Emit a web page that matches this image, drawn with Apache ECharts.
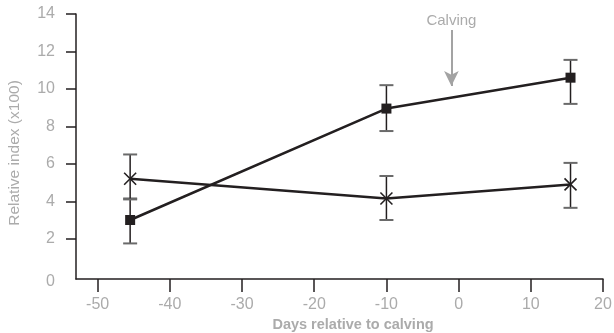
<!DOCTYPE html>
<html>
<head>
<meta charset="utf-8">
<script src="https://cdn.jsdelivr.net/npm/echarts@6/dist/echarts.min.js"></script>
<style>
  html, body { margin: 0; padding: 0; background: #fff; }
  #chart { width: 614px; height: 333px; }
</style>
</head>
<body>
<div id="chart"></div>
<script>
// Sampling days relative to calving
const days = [-45.5, -10, 15.5];

// Series drawn with filled squares: mean and error range
const squareMean = [3.0, 8.95, 10.6];
const squareLow  = [1.75, 7.75, 9.2];
const squareHigh = [4.15, 10.2, 11.55];

// Series drawn with crosses: mean and error range
const crossMean = [5.2, 4.15, 4.9];
const crossLow  = [4.1, 3.0, 3.65];
const crossHigh = [6.5, 5.35, 6.05];

// Axis ticks
const xTicks = [-50, -40, -30, -20, -10, 0, 10, 20];
const yTicks = [0, 2, 4, 6, 8, 10, 12, 14];

// Calving annotation (day, arrow top, arrow tip)
const calvingDay = -1;
const calvingArrow = [13.15, 10.16];

const INK = '#231f20';
const GREY_TEXT = '#ababab';
const FONT = 'Liberation Sans';

function errorBars(low, high) {
  return days.map((d, i) => [d, low[i], high[i]]);
}

function renderErrorBar(params, api) {
  const x = api.value(0);
  const top = api.coord([x, api.value(2)]);
  const bottom = api.coord([x, api.value(1)]);
  const half = 7;
  return {
    type: 'group',
    children: [
      { type: 'line', shape: { x1: top[0], y1: top[1], x2: bottom[0], y2: bottom[1] },
        style: { stroke: INK, lineWidth: 1.5 } },
      { type: 'line', shape: { x1: top[0] - half, y1: top[1], x2: top[0] + half, y2: top[1] },
        style: { stroke: '#6a6a6a', lineWidth: 2 } },
      { type: 'line', shape: { x1: bottom[0] - half, y1: bottom[1], x2: bottom[0] + half, y2: bottom[1] },
        style: { stroke: '#6a6a6a', lineWidth: 2 } }
    ]
  };
}

const chart = echarts.init(document.getElementById('chart'));

chart.setOption({
  animation: false,
  backgroundColor: '#ffffff',
  textStyle: { fontFamily: FONT },
  grid: { left: 76, right: 11, top: 14, bottom: 54, containLabel: false, outerBoundsMode: 'none' },
  xAxis: {
    type: 'value',
    min: -53,
    max: 20,
    splitLine: { show: false },
    axisLine: { onZero: false, lineStyle: { color: INK, width: 1.5 } },
    axisTick: { customValues: xTicks, length: 13, lineStyle: { color: INK, width: 1.5 } },
    axisLabel: { customValues: xTicks, margin: 18, color: GREY_TEXT, fontSize: 16, fontFamily: FONT },
    name: 'Days relative to calving',
    nameLocation: 'middle',
    nameGap: 38,
    nameTextStyle: {
      color: GREY_TEXT, fontSize: 14.5, fontWeight: 'bold', fontFamily: FONT,
      padding: [0, 0, 0, 27]
    }
  },
  yAxis: {
    type: 'value',
    min: -0.15,
    max: 14,
    splitLine: { show: false },
    axisLine: { onZero: false, lineStyle: { color: INK, width: 1.5 } },
    axisTick: { customValues: yTicks.slice(1), length: 10, lineStyle: { color: INK, width: 1.5 } },
    axisLabel: {
      customValues: yTicks,
      margin: 21,
      color: GREY_TEXT,
      fontSize: 16,
      fontFamily: FONT,
      // the zero label sits level with the horizontal axis line
      formatter: (v) => (v === 0 ? '{zero|0}' : String(v)),
      rich: { zero: { padding: [10, 0, 0, 0], color: GREY_TEXT, fontSize: 16, fontFamily: FONT } }
    },
    name: 'Relative index (x100)',
    nameLocation: 'middle',
    nameGap: 53,
    nameTextStyle: {
      color: GREY_TEXT, fontSize: 15.5, fontFamily: FONT,
      padding: [0, 13, 0, 0]
    }
  },
  series: [
    {
      type: 'custom',
      name: 'squareErr',
      renderItem: renderErrorBar,
      data: errorBars(squareLow, squareHigh),
      encode: { x: 0, y: [1, 2] },
      z: 1
    },
    {
      type: 'custom',
      name: 'crossErr',
      renderItem: renderErrorBar,
      data: errorBars(crossLow, crossHigh),
      encode: { x: 0, y: [1, 2] },
      z: 1
    },
    {
      type: 'line',
      name: 'cross',
      data: days.map((d, i) => [d, crossMean[i]]),
      symbol: 'path://M0,0L10,10M10,0L0,10',
      symbolSize: 12,
      showAllSymbol: true,
      lineStyle: { color: INK, width: 2.6 },
      itemStyle: { color: 'rgba(0,0,0,0)', borderColor: INK, borderWidth: 1.6 },
      z: 3
    },
    {
      type: 'line',
      name: 'square',
      data: days.map((d, i) => [d, squareMean[i]]),
      symbol: 'rect',
      symbolSize: 10,
      showAllSymbol: true,
      lineStyle: { color: INK, width: 2.6 },
      itemStyle: { color: INK },
      z: 4,
      markLine: {
        silent: true,
        symbol: ['none', 'arrow'],
        symbolSize: [11, 15],
        lineStyle: { color: '#a3a3a3', width: 2, type: 'solid' },
        itemStyle: { color: '#a3a3a3' },
        label: {
          show: true,
          position: 'start',
          distance: 2,
          formatter: 'Calving',
          color: GREY_TEXT,
          fontSize: 15,
          fontFamily: FONT
        },
        data: [[
          { coord: [calvingDay, calvingArrow[0]] },
          { coord: [calvingDay, calvingArrow[1]] }
        ]]
      }
    }
  ]
});
</script>
</body>
</html>
